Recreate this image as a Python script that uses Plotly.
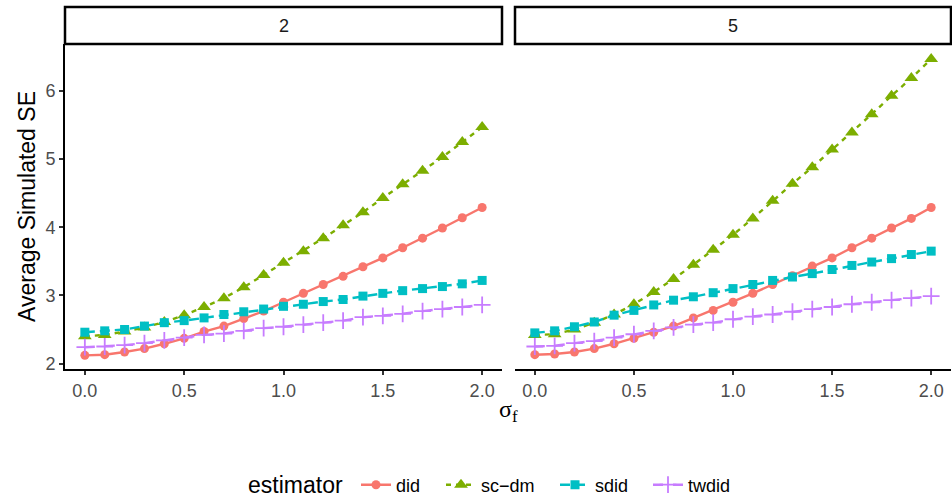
import plotly.graph_objects as go

# ---- data ----
sigma_f = [0.0, 0.1, 0.2, 0.3, 0.4, 0.5, 0.6, 0.7, 0.8, 0.9, 1.0,
           1.1, 1.2, 1.3, 1.4, 1.5, 1.6, 1.7, 1.8, 1.9, 2.0]
panels = ["2", "5"]
estimators = ["did", "sc\u2212dm", "sdid", "twdid"]
legend_title = "estimator"

did_2 = [2.12, 2.13, 2.17, 2.22, 2.29, 2.37, 2.47, 2.55, 2.66, 2.77, 2.90,
         3.03, 3.16, 3.28, 3.42, 3.55, 3.70, 3.84, 3.99, 4.14, 4.29]
scdm_2 = [2.40, 2.42, 2.47, 2.53, 2.61, 2.71, 2.83, 2.96, 3.12, 3.30, 3.48,
          3.65, 3.84, 4.03, 4.22, 4.43, 4.63, 4.83, 5.03, 5.25, 5.47]
sdid_2 = [2.46, 2.48, 2.50, 2.55, 2.60, 2.63, 2.67, 2.72, 2.76, 2.80, 2.84,
          2.87, 2.91, 2.94, 2.99, 3.03, 3.07, 3.10, 3.13, 3.17, 3.22]
twdid_2 = [2.24, 2.25, 2.27, 2.30, 2.34, 2.38, 2.42, 2.44, 2.48, 2.52, 2.54,
           2.57, 2.60, 2.63, 2.68, 2.70, 2.73, 2.77, 2.80, 2.83, 2.86]

did_5 = [2.13, 2.14, 2.17, 2.22, 2.29, 2.37, 2.46, 2.55, 2.67, 2.78, 2.90,
         3.03, 3.16, 3.29, 3.43, 3.55, 3.70, 3.84, 3.99, 4.13, 4.29]
scdm_5 = [2.42, 2.43, 2.50, 2.60, 2.72, 2.87, 3.05, 3.24, 3.45, 3.67, 3.89,
          4.13, 4.39, 4.64, 4.88, 5.14, 5.39, 5.66, 5.93, 6.19, 6.47]
sdid_5 = [2.45, 2.48, 2.54, 2.61, 2.71, 2.78, 2.86, 2.93, 2.98, 3.04, 3.10,
          3.16, 3.22, 3.27, 3.32, 3.38, 3.44, 3.49, 3.54, 3.60, 3.65]
twdid_5 = [2.25, 2.26, 2.30, 2.33, 2.38, 2.43, 2.48, 2.53, 2.57, 2.60, 2.65,
           2.69, 2.72, 2.76, 2.80, 2.83, 2.87, 2.90, 2.93, 2.96, 2.99]

x_ticks = [0.0, 0.5, 1.0, 1.5, 2.0]
x_ticklabels = ["0.0", "0.5", "1.0", "1.5", "2.0"]
y_ticks = [2, 3, 4, 5, 6]
y_ticklabels = ["2", "3", "4", "5", "6"]

# ---- styles ----
colors = ["#F8766D", "#7CAE00", "#00BFC4", "#C77CFF"]
dashes = ["solid", "5px,5px", "10px,5px", "10px,10px"]
symbols = ["circle", "triangle-up", "square", "cross-thin"]
msizes = [9, 12, 9, 12]
legend_x_px = [356, 441, 555, 648]   # legend item origins (px)
legend_ids = ["legend", "legend2", "legend3", "legend4"]

series = {"2": [did_2, scdm_2, sdid_2, twdid_2],
          "5": [did_5, scdm_5, sdid_5, twdid_5]}

W, H = 952, 499
ml, mr, mt, mb = 65, 1, 7, 130
pw = W - ml - mr
ph = H - mt - mb
strip_h = 37
ytop = 1 - strip_h / ph
dom_left = [0.0, (502 - ml) / pw]
dom_right = [(515 - ml) / pw, 1.0]
legend_y_px = 485

fig = go.Figure()
for pi, p in enumerate(panels):
    xa = "x" if pi == 0 else "x2"
    ya = "y" if pi == 0 else "y2"
    for ei, est in enumerate(estimators):
        mk = dict(symbol=symbols[ei], size=msizes[ei], color=colors[ei])
        if symbols[ei] == "cross-thin":
            mk["line"] = dict(color=colors[ei], width=1.8)
        else:
            mk["line"] = dict(width=0)
        fig.add_trace(go.Scatter(
            x=sigma_f, y=series[p][ei], mode="lines+markers",
            name=est, legendgroup=est, showlegend=(pi == 0),
            legend=legend_ids[ei],
            line=dict(color=colors[ei], width=2.4, dash=dashes[ei]),
            marker=mk, xaxis=xa, yaxis=ya))

axis_common = dict(showgrid=False, zeroline=False, showline=True,
                   linecolor="black", linewidth=2, ticks="outside",
                   ticklen=4, tickwidth=1.5, tickcolor="#333333",
                   tickfont=dict(family="Liberation Sans", size=18, color="#4D4D4D"))

legend_font = dict(family="Liberation Sans", size=18, color="black")
leg_layout = {}
for lid, lx in zip(legend_ids, legend_x_px):
    leg_layout[lid] = dict(orientation="h", x=lx / W, xanchor="left", xref="container",
                           y=(H - legend_y_px) / H, yanchor="middle", yref="container",
                           font=legend_font, itemwidth=30, bgcolor="rgba(0,0,0,0)")

fig.update_layout(
    width=W, height=H,
    margin=dict(l=ml, r=mr, t=mt, b=mb),
    paper_bgcolor="white", plot_bgcolor="white",
    xaxis=dict(domain=dom_left, range=[-0.1, 2.1], tickvals=x_ticks,
               ticktext=x_ticklabels, anchor="y", **axis_common),
    xaxis2=dict(domain=dom_right, range=[-0.1, 2.1], tickvals=x_ticks,
                ticktext=x_ticklabels, anchor="y2", **axis_common),
    yaxis=dict(domain=[0, ytop], range=[1.92, 6.69], tickvals=y_ticks,
               ticktext=y_ticklabels, anchor="x", **axis_common),
    yaxis2=dict(domain=[0, ytop], range=[1.92, 6.69], matches="y",
                showticklabels=False, showline=False, ticks="",
                showgrid=False, zeroline=False, anchor="x2"),
    showlegend=True,
    **leg_layout,
)

# legend title
fig.add_annotation(x=(246 - ml) / pw, y=-(legend_y_px - (H - mb)) / ph,
                   xref="paper", yref="paper",
                   xanchor="left", yanchor="middle", text=legend_title, showarrow=False,
                   font=dict(family="Liberation Sans", size=23, color="black"))

# strips
for dom, lab in [(dom_left, panels[0]), (dom_right, panels[1])]:
    fig.add_shape(type="rect", xref="paper", yref="paper",
                  x0=dom[0], x1=dom[1], y0=ytop, y1=1.0,
                  line=dict(color="black", width=2.5), fillcolor="white")
    fig.add_annotation(x=(dom[0] + dom[1]) / 2, y=(ytop + 1) / 2,
                       xref="paper", yref="paper", text=lab, showarrow=False,
                       xanchor="center", yanchor="middle",
                       font=dict(family="Liberation Sans", size=18, color="#1A1A1A"))

# axis titles
fig.add_annotation(x=(508 - ml) / pw, y=-(411 - (H - mb)) / ph,
                   xref="paper", yref="paper", xanchor="center", yanchor="middle",
                   text="\u03c3<sub>f</sub>", showarrow=False,
                   font=dict(family="Liberation Serif", size=24, color="black"))
fig.add_annotation(x=-(ml - 27) / pw, y=(H - mb - 207) / ph,
                   xref="paper", yref="paper", textangle=-90,
                   xanchor="center", yanchor="middle",
                   text="Average Simulated SE", showarrow=False,
                   font=dict(family="Liberation Sans", size=23, color="black"))

fig.write_html("out.html")
